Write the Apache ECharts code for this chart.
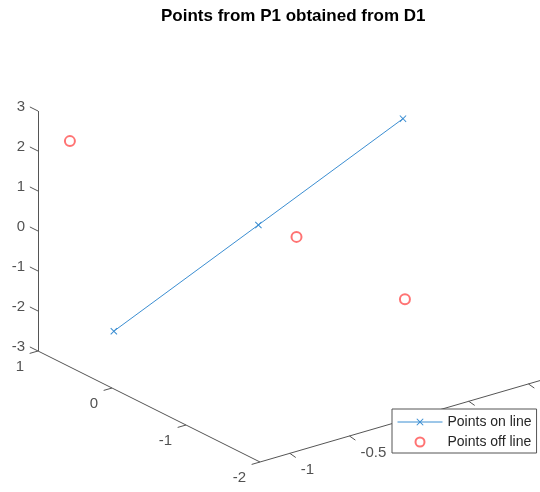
<!DOCTYPE html>
<html><head><meta charset="utf-8">
<script src="https://cdn.jsdelivr.net/npm/echarts@6/dist/echarts.min.js"></script>
<style>html,body{margin:0;padding:0;background:#fff}#c{width:540px;height:492px}</style>
</head><body><div id="c"></div>
<script>
// ---- data ----
const titleText = 'Points from P1 obtained from D1';
const seriesNames = ['Points on line', 'Points off line'];
const onLineX = [-0.85, -0.06, 0.73];
const onLineY = [0.62, -0.06, -0.74];
const onLineZ = [-2.5, 0.1, 2.7];
const offLineX = [-1.15, -0.82, 1.1];
const offLineY = [0.73, -1.8, -0.17];
const offLineZ = [2.41, 2.07, -2.66];
const xTicks = [-1, -0.5, 0, 0.5, 1];
const yTicks = [-2, -1, 0, 1];
const zTicks = [-3, -2, -1, 0, 1, 2, 3];
const xLim = [-1.25, 1.5];
const yLim = [-2, 1];
const zLim = [-3, 3];

// ---- view: orthographic projection (screen px per data unit) ----
const VIEW = { origin: [260, 462], ex: [119.3, -34.7], ey: [-74, -37], ez: [0, -40] };
function proj(x, y, z) {
  const a = x - xLim[0], b = y - yLim[0], c = z - zLim[0];
  return [VIEW.origin[0] + a * VIEW.ex[0] + b * VIEW.ey[0] + c * VIEW.ez[0],
          VIEW.origin[1] + a * VIEW.ex[1] + b * VIEW.ey[1] + c * VIEW.ez[1]];
}
const AX = '#555555', TXT = '#262626';
const FONT = '"Liberation Sans", Arial, Helvetica, sans-serif';
const BLUE = '#3b8ed2', RED = '#ff5050';

const axisSegs = [
  { coords: [proj(xLim[0], yLim[0], zLim[0]), proj(xLim[1], yLim[0], zLim[0])] },
  { coords: [proj(xLim[0], yLim[0], zLim[0]), proj(xLim[0], yLim[1], zLim[0])] },
  { coords: [proj(xLim[0], yLim[1], zLim[0]), proj(xLim[0], yLim[1], zLim[1])] }
];
xTicks.forEach(v => axisSegs.push({ coords: [proj(v, yLim[0], zLim[0]), proj(v, yLim[0] - 0.08, zLim[0] - 0.03)] }));
yTicks.forEach(v => axisSegs.push({ coords: [proj(xLim[0], v, zLim[0]), proj(xLim[0] - 0.07, v, zLim[0])] }));
zTicks.forEach(v => axisSegs.push({ coords: [proj(xLim[0], yLim[1], v), proj(xLim[0], yLim[1] + 0.11, v)] }));

function labelSeries(data, align, offset) {
  return {
    type: 'scatter', silent: true, symbolSize: 0, data: data, z: 2,
    label: { show: true, position: 'inside', align: align, verticalAlign: 'middle', offset: offset,
      formatter: p => String(p.data[2]), color: TXT, fontSize: 15, fontFamily: FONT }
  };
}
const xLabelData = xTicks.map(v => proj(v, yLim[0], zLim[0]).concat([v]));
const yLabelData = yTicks.map(v => proj(xLim[0], v, zLim[0]).concat([v]));
const zLabelData = zTicks.map(v => proj(xLim[0], yLim[1], v).concat([v]));

const onLineData = onLineX.map((x, i) => proj(x, onLineY[i], onLineZ[i]));
const offLineData = offLineX.map((x, i) => proj(x, offLineY[i], offLineZ[i]));

const XSYM = 'path://M0,1L1,0L5,4L9,0L10,1L6,5L10,9L9,10L5,6L1,10L0,9L4,5Z';

const chart = echarts.init(document.getElementById('c'), null, { renderer: 'canvas' });
chart.setOption({
  animation: false,
  backgroundColor: '#ffffff',
  textStyle: { fontFamily: FONT },
  title: { text: titleText, left: 156, top: 3,
    textStyle: { fontSize: 17, fontWeight: 'bold', color: '#000', fontFamily: FONT } },
  grid: { left: 0, right: 0, top: 0, bottom: 0 },
  xAxis: { type: 'value', min: 0, max: 540, show: false },
  yAxis: { type: 'value', min: 0, max: 492, inverse: true, show: false },
  legend: {
    data: seriesNames, orient: 'vertical', left: 392, top: 409, z: 20,
    backgroundColor: '#fff', borderColor: '#555', borderWidth: 1, borderRadius: 0,
    padding: [5, 5, 3, 5], itemWidth: 45, itemHeight: 9, itemGap: 4,
    lineStyle: { width: 1 },
    textStyle: { fontSize: 14, color: TXT, fontFamily: FONT, lineHeight: 16 }
  },
  series: [
    { type: 'lines', coordinateSystem: 'cartesian2d', silent: true, data: axisSegs,
      lineStyle: { color: AX, width: 1, opacity: 1 }, z: 1 },
    labelSeries(xLabelData, 'left', [11, 17]),
    labelSeries(yLabelData, 'right', [-14, 15.5]),
    labelSeries(zLabelData, 'right', [-13, -4]),
    { name: seriesNames[0], type: 'line', data: onLineData, symbol: XSYM, symbolSize: 7,
      lineStyle: { color: BLUE, width: 1 }, itemStyle: { color: BLUE }, z: 3 },
    { name: seriesNames[1], type: 'scatter', data: offLineData, symbol: 'emptyCircle', symbolSize: 10,
      itemStyle: { color: RED, borderColor: RED, borderWidth: 1 }, z: 3 }
  ]
});
</script></body></html>
